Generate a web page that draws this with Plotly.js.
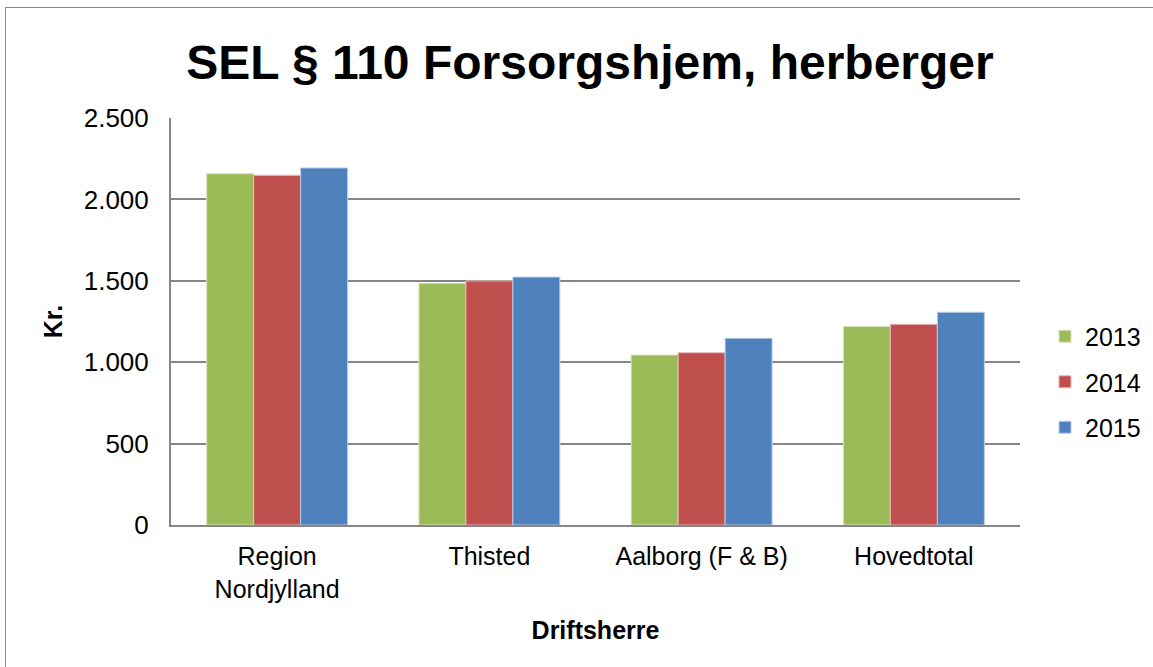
<!DOCTYPE html>
<html><head><meta charset="utf-8">
<script src="https://cdn.plot.ly/plotly-3.0.1.min.js"></script>
<style>
html,body{margin:0;padding:0;background:#fff;overflow:hidden;}
#chart{position:absolute;left:0;top:0;width:1153px;height:667px;}
#frame{position:absolute;left:5px;top:7px;width:1160px;height:700px;border:1.5px solid #8a8a8a;pointer-events:none;}
</style></head>
<body>
<div id="chart"></div>
<div id="frame"></div>
<script>
const categories = ["Region<br>Nordjylland", "Thisted", "Aalborg (F & B)", "Hovedtotal"];
const seriesNames = ["2013", "2014", "2015"];
const values2013 = [2158, 1485, 1044, 1220];
const values2014 = [2148, 1499, 1058, 1233];
const values2015 = [2193, 1523, 1147, 1307];
const yTicks = [0, 500, 1000, 1500, 2000, 2500];
const colors = ["#9BBB59", "#C0504D", "#4F81BD"];
const edge = ["#d7e4bd", "#e6b9b8", "#b9cde5"];

const allValues = [values2013, values2014, values2015];
const traces = seriesNames.map((n, i) => ({
  type: "bar", name: n, x: categories, y: allValues[i],
  legendgroup: "g" + i,
  marker: {color: colors[i], line: {color: edge[i], width: 1}},
  hoverinfo: "skip"
}));

const font = "Liberation Sans, Arial, sans-serif";
const layout = {
  width: 1153, height: 667,
  paper_bgcolor: "#fff", plot_bgcolor: "#fff",
  separators: ",.",
  margin: {l: 171, r: 133, t: 118, b: 142},
  font: {family: font, size: 25, color: "#000"},
  title: {text: "<b>SEL § 110 Forsorgshjem, herberger</b>", font: {family: font, size: 48, color: "#000"},
    x: 590/1153, xanchor: "center", xref: "container", y: 1 - 62/667, yanchor: "middle", yref: "container"},
  barmode: "group", bargap: 0.336, bargroupgap: 0,
  xaxis: {
    showgrid: false, showline: true, linecolor: "#868686", linewidth: 2,
    ticks: "", tickfont: {size: 25}, ticklabelstandoff: 8,
    title: {text: "<b>Driftsherre</b>", font: {size: 25}, standoff: 20},
    fixedrange: true
  },
  yaxis: {
    range: [0, 2500], tickvals: yTicks, tickformat: ",d",
    showgrid: true, gridcolor: "#868686", gridwidth: 2,
    showline: true, linecolor: "#868686", linewidth: 2,
    ticks: "", tickfont: {size: 26}, ticklabelstandoff: 15,
    zeroline: false,
    title: {text: "<b>Kr.</b>", font: {size: 25}, standoff: 14},
    fixedrange: true
  },
  legend: {
    x: 1045/1153, xref: "container", xanchor: "left",
    y: (525 - 382) / 407, yanchor: "middle",
    font: {size: 25}, itemwidth: 30, bgcolor: "rgba(0,0,0,0)",
    traceorder: "grouped", tracegroupgap: 10
  },
  showlegend: true
};

Plotly.newPlot("chart", traces, layout, {staticPlot: true, displayModeBar: false});
</script>
</body></html>
